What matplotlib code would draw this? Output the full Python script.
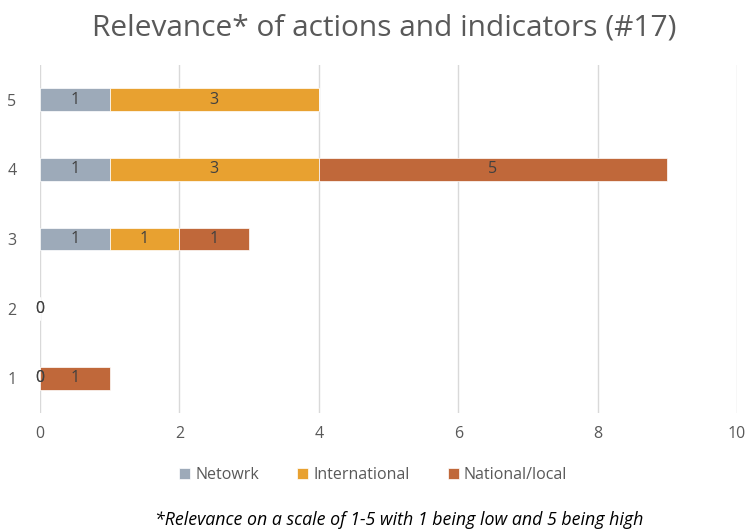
import numpy as np
import matplotlib.pyplot as plt

# Relevance scores (1-5) and counts per actor type
categories = ["1", "2", "3", "4", "5"]
network = [0, 0, 1, 1, 1]
international = [0, 0, 1, 3, 3]
national = [1, np.nan, 1, 5, np.nan]

series_names = ["Netowrk", "International", "National/local"]
series_values = [network, international, national]
colors = ["#9DAAB9", "#E8A130", "#C0683A"]

title = "Relevance* of actions and indicators (#17)"
footnote = "*Relevance on a scale of 1-5 with 1 being low and 5 being high"

plt.rcParams["font.family"] = ["Open Sans", "DejaVu Sans"]

fig = plt.figure(figsize=(7.5, 5.31), dpi=100)
ax = fig.add_axes([0.0533, 0.2222, 0.9294, 0.6554])

y = np.arange(1, len(categories) + 1)
left = np.zeros(len(categories))
for name, vals, col in zip(series_names, series_values, colors):
    v = np.array(vals, dtype=float)
    w = np.nan_to_num(v)
    ax.barh(y, w, left=left, height=0.33, color=col, label=name,
            edgecolor="white", linewidth=0.5, zorder=3)
    for yi, li, vi in zip(y, left, v):
        if np.isnan(vi):
            continue
        ax.text(li + vi / 2, yi, f"{int(vi)}", ha="center", va="center",
                fontsize=11.5, color="#404040", zorder=4)
    left = left + w

ax.set_xlim(0, 10)
ax.set_ylim(0.5, 5.5)
ax.set_xticks(np.arange(0, 11, 2))
ax.set_yticks(y)
ax.set_yticklabels(categories)
ax.grid(axis="x", color="#D9D9D9", linewidth=1, zorder=0)
for s in ax.spines.values():
    s.set_visible(False)
ax.tick_params(axis="both", length=0, labelsize=11.5, labelcolor="#595959")
ax.tick_params(axis="x", pad=9)
ax.tick_params(axis="y", pad=17)

fig.text(0.512, 0.947, title, ha="center", va="center", fontsize=21.5,
         color="#595959")

ax.legend(loc="upper center", bbox_to_anchor=(0.478, -0.115), ncol=3,
          frameon=False, fontsize=11.5, labelcolor="#595959",
          handlelength=0.7, handleheight=0.7, handletextpad=0.3,
          columnspacing=2.4)

fig.text(0.532, 0.02, footnote, ha="center", va="center", fontsize=12.8,
         style="italic", color="#000000")

fig.savefig("out.png", dpi=100)
